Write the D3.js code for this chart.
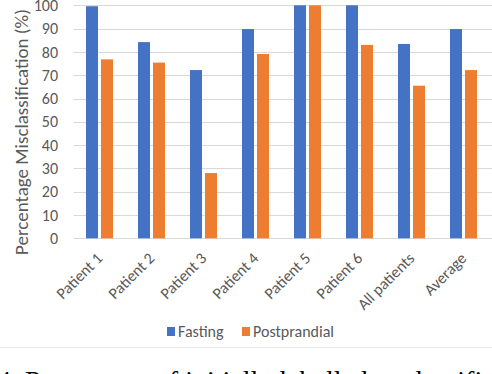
<!DOCTYPE html>
<html>
<head>
<meta charset="utf-8">
<script src="https://cdn.jsdelivr.net/npm/d3@7"></script>
<style>
  body { margin: 0; background: #fff; }
  svg text { font-family: Carlito, Calibri, Lato, sans-serif; fill: #595959; }
</style>
</head>
<body>
<div id="chart"></div>
<script>
// data
const categories = ["Patient 1", "Patient 2", "Patient 3", "Patient 4", "Patient 5", "Patient 6", "All patients", "Average"];
const seriesNames = ["Fasting", "Postprandial"];
const fasting = [99.6, 84.2, 72.2, 89.8, 100, 100, 83.4, 89.8];
const postprandial = [76.8, 75.4, 28, 79.1, 100, 83, 65.5, 72.2];
const yTicks = [0, 10, 20, 30, 40, 50, 60, 70, 80, 90, 100];

const W = 492, H = 374;
const plot = { left: 73.5, right: 489.5, top: 5.3, bottom: 238.3 };

const svg = d3.select("#chart").append("svg")
    .attr("width", W)
    .attr("height", H);

const x = d3.scaleBand()
    .domain(categories)
    .range([plot.left, plot.right])
    .paddingInner(0.48)
    .paddingOuter(0.24);

const xs = d3.scaleBand()
    .domain(seriesNames)
    .range([0, x.bandwidth()])
    .paddingInner(0.2);

const y = d3.scaleLinear()
    .domain([0, 100])
    .range([plot.bottom, plot.top]);

const color = d3.scaleOrdinal()
    .domain(seriesNames)
    .range(["#4472C4", "#ED7D31"]);

// gridlines
svg.append("g")
    .selectAll("line")
    .data(yTicks)
    .enter().append("line")
    .attr("x1", plot.left)
    .attr("x2", W)
    .attr("y1", d => Math.round(y(d)) + 0.5)
    .attr("y2", d => Math.round(y(d)) + 0.5)
    .style("stroke", "#d9d9d9")
    .style("stroke-width", 1);

// bars
const rows = categories.map((c, i) => ({ cat: c, vals: [
    { s: "Fasting", v: fasting[i] },
    { s: "Postprandial", v: postprandial[i] }
]}));

svg.append("g")
    .selectAll("g")
    .data(rows)
    .enter().append("g")
    .attr("transform", d => `translate(${x(d.cat)},0)`)
    .selectAll("rect")
    .data(d => d.vals)
    .enter().append("rect")
    .attr("x", d => xs(d.s))
    .attr("width", xs.bandwidth())
    .attr("y", d => y(d.v))
    .attr("height", d => y(0) - y(d.v))
    .style("fill", d => color(d.s));

// y axis labels
svg.append("g")
    .selectAll("text")
    .data(yTicks)
    .enter().append("text")
    .attr("x", 58)
    .attr("y", d => y(d))
    .attr("dy", "0.35em")
    .attr("text-anchor", "end")
    .style("font-size", "16px")
    .text(d => d);

// x axis labels
svg.append("g")
    .selectAll("text")
    .data(categories)
    .enter().append("text")
    .attr("transform", d => `translate(${x(d) + x.bandwidth() / 2 + 4},${plot.bottom + 21}) rotate(-45)`)
    .attr("text-anchor", "end")
    .style("font-size", "16px")
    .text(d => d);

// y title
svg.append("text")
    .attr("transform", `translate(28,${132}) rotate(-90)`)
    .attr("text-anchor", "middle")
    .style("font-size", "19px")
    .text("Percentage Misclassification (%)");

// legend
const legend = svg.append("g")
    .attr("transform", "translate(167,327)");
const legX = [0, 75];
seriesNames.forEach((s, i) => {
    legend.append("rect")
        .attr("x", legX[i])
        .attr("y", 0)
        .attr("width", 8)
        .attr("height", 9)
        .style("fill", color(s));
    legend.append("text")
        .attr("x", legX[i] + 11)
        .attr("y", 9.5)
        .style("font-size", "16px")
        .text(s);
});

// chart border bottom / caption
svg.append("line")
    .attr("x1", 0).attr("x2", W)
    .attr("y1", 347.5).attr("y2", 347.5)
    .style("stroke", "#e8e8e8");

svg.append("text")
    .attr("x", -3)
    .attr("y", 390)
    .style("font-family", "'Liberation Serif', 'Times New Roman', serif")
    .style("font-size", "28px")
    .style("fill", "#000")
    .text("4. Percentage of initially labelled unclassified cells");
</script>
</body>
</html>
